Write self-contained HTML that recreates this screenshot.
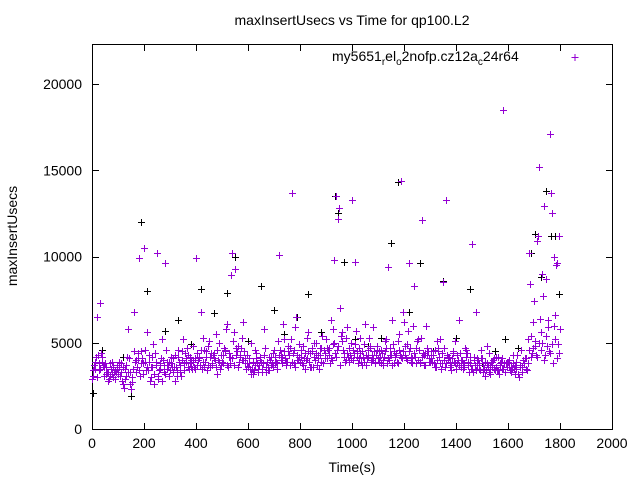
<!DOCTYPE html>
<html><head><meta charset="utf-8"><style>
body{margin:0;background:#fff}
svg{font-family:"Liberation Sans",sans-serif;font-size:14px}
</style></head><body>
<svg id="c" width="640" height="480">
<rect x="92.5" y="44.5" width="520" height="385" fill="none" stroke="#000" stroke-width="1"/>
<text x="352" y="25" text-anchor="middle">maxInsertUsecs vs Time for qp100.L2</text>
<text x="352" y="472" text-anchor="middle">Time(s)</text>
<text transform="translate(17,236) rotate(-90)" text-anchor="middle">maxInsertUsecs</text>
<g id="ticks"></g>
<g id="marks"></g>
<g>
<text x="332" y="61">my5651<tspan font-size="10" dy="4">r</tspan><tspan dy="-4">el</tspan><tspan font-size="10" dy="4">o</tspan><tspan dy="-4">2nofp.cz12a</tspan><tspan font-size="10" dy="4">c</tspan><tspan dy="-4">24r64</tspan></text>
<path d="M571.5 57.5h7M575 54v7" stroke="#9400d3" stroke-width="1"/>
</g>
</svg>
<script>
const xTicks=[0,200,400,600,800,1000,1200,1400,1600,1800,2000];
const yTicks=[0,5000,10000,15000,20000];
const purpleA=[2900,3500,6500,7300,4200,3800,3300,3100,3600,3400,
3200,3800,2600,3100,5800,2300,6800,4000,9900,4500,
10500,5600,3900,4200,2600,10200,3800,5200,9600,3500,
3400,4100,2800,4600,3700,5200,3900,4300,3600,4800,
9900,4200,6800,3600,4500,5100,3800,4400,3200,5000,
3900,4600,6100,3800,10200,9300,4800,4300,6200,4100,
3600,5000,3200,4400,3500,3900,5800,3300,4200,3700,
4600,3800,10100,4200,5200,3900,4700,13700,5900,4300,
3900,4800,3500,5600,4400,3600,5000,4100,4700,3800,
5200,4300,6300,9800,13500,12800,5600,4400,5900,3900,
13300,9700,4500,5300,3700,6100,4200,4800,5900,3900,
4100,4600,3700,5200,9400,4300,3800,4400,5500,14400,
6200,4900,9600,4100,8300,5100,3800,12100,4400,4700,
3900,4300,3600,4700,5200,8500,13300,4100,3700,4400,
3500,6300,4000,3800,4600,3300,10700,4200,3700,3500,
4100,3100,4800,3600,3900,3400,4200,3800,18500,3300,
3900,3600,4300,3500,3200,4600,3800,4100,10200,5400,
7400,10900,15200,9000,12900,4800,17100,12500,6600,9600,5800];
const purpleB=[3400,4200,3800,4400,3100,3600,2900,3900,3300,3700,
3600,2800,3500,4200,3300,2700,3900,4400,3100,3800,
4600,3400,3000,4900,3700,2900,4100,3300,4600,3900,
4200,3600,3100,3900,4500,3400,4700,3800,3500,4100,
4400,3700,5300,3900,4800,3600,4300,5500,4000,3700,
4300,5800,4200,8900,5600,4700,3900,5300,4500,3800,
4100,3500,4600,3800,4200,3300,4700,3600,4000,4400,
3800,5100,4300,6100,3900,4500,5200,3800,6500,4200,
4600,4100,5300,3900,4500,5000,3700,4300,5400,4100,
4700,3800,5800,4400,12200,7000,4600,5300,4200,5000,
4600,5700,4100,3900,4900,4300,5300,4000,4500,4800,
3900,4400,5100,3800,4700,6300,4200,5100,4300,6800,
4800,5700,4200,6000,4700,4000,5300,4300,6000,3900,
4500,3800,5100,4200,3800,4700,4300,3600,4100,5100,
3800,4400,3500,4700,3900,4200,3300,6800,4000,4600,
3700,3400,4400,3900,3500,4200,3200,4100,3800,3600,
4000,3500,3200,4300,3700,3300,4100,5200,8400,6200,
4800,11200,5600,7700,8700,6300,13700,10000,9500,11200];
const purpleC=[3100,3900,4300,3500,3700,3200,2800,3500,3000,3300,
3900,3300,2400,3700,4100,3000,4500,3600,3400,4100,
3900,3600,2800,3600,4400,3100,3500,4000,3200,3700,
3800,3300,3600,4200,3100,3800,4100,3500,4000,3600,
3700,4100,3500,4600,3400,4200,3700,4000,4600,3500,
3800,4500,3600,4200,5100,4300,3600,4700,4000,3500,
3800,3200,3400,4100,3700,3500,4300,3900,3400,3800,
4200,3500,4600,3800,4100,4800,3700,4400,3600,4000,
4200,3700,4000,4500,3600,4200,4400,3500,3900,4600,
4100,4700,4000,5000,4600,3700,5100,3900,4400,4300,
4000,4900,3800,4400,4200,3700,4600,3900,4100,4300,
4500,3800,4200,4700,4000,3700,4500,3900,4600,4100,
4300,4000,4700,3800,4200,5200,3900,4400,3700,4500,
4100,4300,3600,4500,3500,4000,3800,4200,3400,3900,
4300,3700,4000,3600,4400,3800,3500,3700,4100,3400,
3300,3900,3600,3200,4000,3600,3400,3900,3500,3800,
3600,3300,3500,3900,3000,3600,3800,3400,4600,4400,
5100,4200,6400,5000,4300,5900,4400,3800,5200,4900];
const purpleD=[3700,3000,3400,3900,3600,3300,3800,3200,2900,3500,
3100,3600,2900,3300,2600,3500,3300,4100,3800,3200,
3400,4300,3600,3200,3900,3400,2800,3700,3900,3100,
3600,4300,3400,3300,4000,4400,3600,4200,3900,3500,
4000,4600,3900,4200,3700,4400,4100,3600,3900,4300,
4700,3700,4400,4100,3700,4500,4200,4000,3800,4300,
3500,3900,3700,3300,4000,3800,3600,3400,4200,3600,
3900,4300,4000,4500,3700,4300,3900,4600,4000,4900,
3800,4400,4100,3600,4700,4000,4300,4700,3800,4400,
4600,4100,4900,4200,4800,5400,4200,4000,4700,4100,
4400,4200,4700,4500,3900,4100,4700,4300,3800,4600,
4200,4000,4500,4100,4300,4900,4400,3800,4200,4500,
4100,4500,3900,4400,3800,4600,4200,3700,4300,4100,
3900,4600,4000,3800,4400,3600,4200,3900,4500,3800,
4000,3600,3800,4200,3700,3500,4000,3400,3800,4100,
3500,3800,3300,3700,4100,3400,3700,3500,3300,3900,
3400,3800,3700,3200,3600,4000,3500,3800,4200,4700,
4300,5000,4600,4000,5400,4500,4900,6000,4100,4400];
const blackT=[5,40,120,150,190,210,280,330,380,420,470,520,550,600,650,700,740,790,830,880,935,945,970,1010,1060,1110,1150,1175,1220,1260,1310,1350,1400,1455,1500,1550,1590,1640,1690,1705,1725,1745,1765,1780,1795];
const blackV=[2100,4600,4200,1900,12000,8000,5700,6300,4900,8100,6700,7900,10000,5100,8300,6900,5500,6500,7800,5600,13500,12500,9700,5200,4800,5300,10800,14300,6800,9600,4500,8600,5300,8100,3800,4500,5200,4700,10200,11300,8800,13800,11200,11200,7800];
const X=t=>92+t*520/2000, Y=v=>429-v*345/20000;
const NS='http://www.w3.org/2000/svg';
const tg=document.getElementById('ticks'), mg=document.getElementById('marks');
xTicks.forEach(t=>{
 const p=document.createElementNS(NS,'path');
 const x=Math.round(X(t))+0.5;
 p.setAttribute('d',`M${x} 429v-6M${x} 45v6`);p.setAttribute('stroke','#000');
 
 
 tg.appendChild(p);
 const l=document.createElementNS(NS,'text');
 l.setAttribute('x',X(t));l.setAttribute('y',448);l.setAttribute('text-anchor','middle');l.textContent=t;
 
 
 tg.appendChild(l);
});
yTicks.forEach(v=>{
 const p=document.createElementNS(NS,'path');
 const y=Math.round(Y(v))+0.5;
 p.setAttribute('d',`M93 ${y}h6M612 ${y}h-6`);p.setAttribute('stroke','#000');
 
 
 tg.appendChild(p);
 const l=document.createElementNS(NS,'text');
 l.setAttribute('x',82);l.setAttribute('y',Y(v)+5);l.setAttribute('text-anchor','end');l.textContent=v;
 
 
 tg.appendChild(l);
});
function plus(t,v,c,name){
 const p=document.createElementNS(NS,'path');
 const x=Math.round(X(t))+0.5,y=Math.round(Y(v))+0.5;
 p.setAttribute('d',`M${x-3.5} ${y}h7M${x} ${y-3.5}v7`);p.setAttribute('stroke',c);p.setAttribute('stroke-width','1');
 
 
 mg.appendChild(p);
}
blackT.forEach((t,i)=>plus(t,blackV[i],'#000','point-black'));
purpleA.forEach((v,i)=>plus(i*10,v,'#9400d3','point-purple'));
purpleB.forEach((v,i)=>plus(i*10+5,v,'#9400d3','point-purple'));
purpleC.forEach((v,i)=>plus(i*10+2.5,v,'#9400d3','point-purple'));
purpleD.forEach((v,i)=>plus(i*10+7.5,v,'#9400d3','point-purple'));
</script>
</body></html>
